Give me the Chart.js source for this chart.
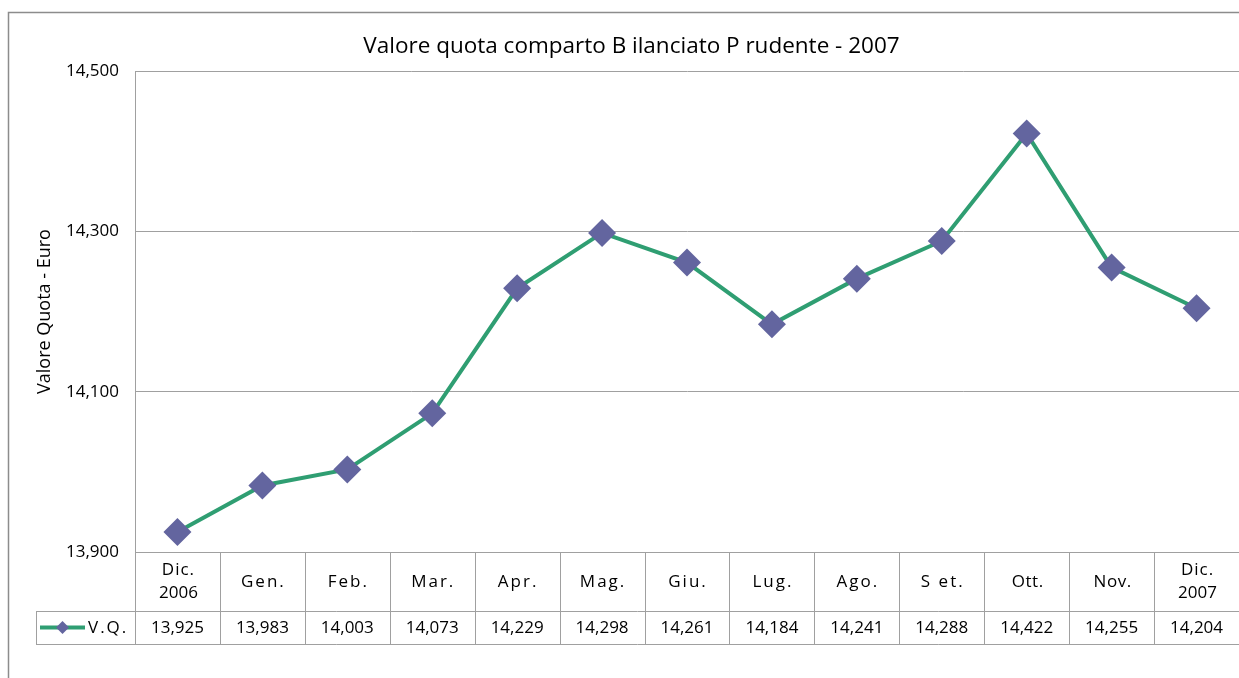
<!DOCTYPE html>
<html>
<head>
<meta charset="utf-8">
<script src="https://cdn.jsdelivr.net/npm/chart.js@4.4.1/dist/chart.umd.min.js"></script>
<style>
  html, body { margin: 0; padding: 0; background: #fff; }
  canvas { display: block; }
</style>
</head>
<body>
<canvas id="chart" width="1239" height="678"></canvas>
<script>
// Data
const months = [['Dic.', '2006'], 'Gen.', 'Feb.', 'Mar.', 'Apr.', 'Mag.', 'Giu.', 'Lug.', 'Ago.', 'S et.', 'Ott.', 'Nov.', ['Dic.', '2007']];
const quota = [13.925, 13.983, 14.003, 14.073, 14.229, 14.298, 14.261, 14.184, 14.241, 14.288, 14.422, 14.255, 14.204];
const seriesName = 'V.Q.';
const yMin = 13.9;
const yMax = 14.5;
const yStep = 0.2;

const FONT = '"Open Sans", "Noto Sans", sans-serif';
const LINE_GREEN = '#2f9e72';
const MARKER = '#63659f';
const GRID = '#a0a0a0';

// Italian style number: 13.925 -> "13,925"
function fmt(v) {
  return v.toFixed(3).replace('.', ',');
}

// Outer frame + data table under the plot
const tablePlugin = {
  id: 'dataTable',
  beforeDraw(chart) {
    const ctx = chart.ctx;
    ctx.save();
    ctx.fillStyle = '#fff';
    ctx.fillRect(0, 0, chart.width, chart.height);
    ctx.strokeStyle = '#8c8c8c';
    ctx.lineWidth = 1.5;
    ctx.strokeRect(8.5, 12.5, 1400, 800);
    ctx.restore();
  },
  afterDraw(chart) {
    const { ctx, chartArea } = chart;
    const x = chart.scales.x;
    const top = chartArea.bottom;
    const mid = top + 59;
    const bottom = top + 92;
    const half = (x.getPixelForValue(1) - x.getPixelForValue(0)) / 2;
    const legendLeft = 36;

    ctx.save();
    ctx.strokeStyle = GRID;
    ctx.lineWidth = 1;

    // horizontal rules
    ctx.beginPath();
    ctx.moveTo(chartArea.left, top + 0.5);
    ctx.lineTo(chartArea.right, top + 0.5);
    ctx.moveTo(legendLeft, mid + 0.5);
    ctx.lineTo(chartArea.right, mid + 0.5);
    ctx.moveTo(legendLeft, bottom + 0.5);
    ctx.lineTo(chartArea.right, bottom + 0.5);
    // left edges
    ctx.moveTo(legendLeft + 0.5, mid);
    ctx.lineTo(legendLeft + 0.5, bottom);
    ctx.moveTo(chartArea.left + 0.5, top);
    ctx.lineTo(chartArea.left + 0.5, bottom);
    // column separators
    months.forEach((m, i) => {
      const px = Math.round(x.getPixelForValue(i) + half) + 0.5;
      ctx.moveTo(px, top);
      ctx.lineTo(px, bottom);
    });
    ctx.stroke();

    // header labels
    ctx.fillStyle = '#000';
    ctx.textAlign = 'center';
    ctx.textBaseline = 'middle';
    ctx.font = '17px ' + FONT;
    months.forEach((m, i) => {
      const cx = x.getPixelForValue(i) + 1;
      if (Array.isArray(m)) {
        ctx.letterSpacing = '1px';
        ctx.fillText(m[0], cx, top + 18);
        ctx.letterSpacing = '0px';
        ctx.fillText(m[1], cx, top + 41);
      } else {
        ctx.letterSpacing = (m === 'Ott.' || m === 'Nov.') ? '0.5px' : '2px';
        ctx.fillText(m, cx, top + 30);
      }
    });

    // value row
    ctx.letterSpacing = '0px';
    quota.forEach((v, i) => {
      ctx.fillText(fmt(v), x.getPixelForValue(i), mid + 17);
    });

    // legend key
    const ly = mid + 16.5;
    ctx.strokeStyle = LINE_GREEN;
    ctx.lineWidth = 4;
    ctx.beginPath();
    ctx.moveTo(40, ly);
    ctx.lineTo(85, ly);
    ctx.stroke();
    ctx.fillStyle = MARKER;
    ctx.beginPath();
    ctx.moveTo(62.5, ly - 6.5);
    ctx.lineTo(69, ly);
    ctx.lineTo(62.5, ly + 6.5);
    ctx.lineTo(56, ly);
    ctx.closePath();
    ctx.fill();
    ctx.fillStyle = '#000';
    ctx.textAlign = 'left';
    ctx.letterSpacing = '2px';
    ctx.fillText(seriesName, 88, ly + 0.5);
    ctx.restore();
  }
};

new Chart(document.getElementById('chart'), {
  type: 'line',
  data: {
    labels: months,
    datasets: [{
      label: seriesName,
      data: quota,
      borderColor: LINE_GREEN,
      borderWidth: 4,
      tension: 0,
      pointStyle: 'rectRot',
      pointRadius: 14,
      pointHoverRadius: 14,
      pointBackgroundColor: MARKER,
      pointBorderColor: MARKER,
      pointBorderWidth: 0
    }]
  },
  options: {
    responsive: false,
    animation: false,
    devicePixelRatio: 1,
    layout: { autoPadding: false, padding: { left: 24, right: 0, top: 0, bottom: 126 } },
    plugins: {
      legend: { display: false },
      tooltip: { enabled: false },
      title: {
        display: true,
        text: 'Valore quota comparto B ilanciato P rudente - 2007',
        color: '#000',
        font: { family: FONT, size: 22.5, weight: 'normal' },
        padding: { top: 33.5, bottom: 10.5 }
      }
    },
    scales: {
      x: {
        type: 'category',
        display: false,
        offset: true
      },
      y: {
        min: yMin,
        max: yMax,
        afterFit(scale) { scale.width = 111; },
        ticks: {
          stepSize: yStep,
          padding: 16,
          color: '#000',
          font: { family: FONT, size: 17 },
          callback: v => fmt(v)
        },
        grid: { color: GRID, drawTicks: false },
        border: { color: GRID },
        title: {
          display: true,
          text: 'Valore Quota - Euro',
          color: '#000',
          font: { family: FONT, size: 18 },
          padding: { top: 10, bottom: 0 }
        }
      }
    }
  },
  plugins: [tablePlugin]
});
</script>
</body>
</html>
